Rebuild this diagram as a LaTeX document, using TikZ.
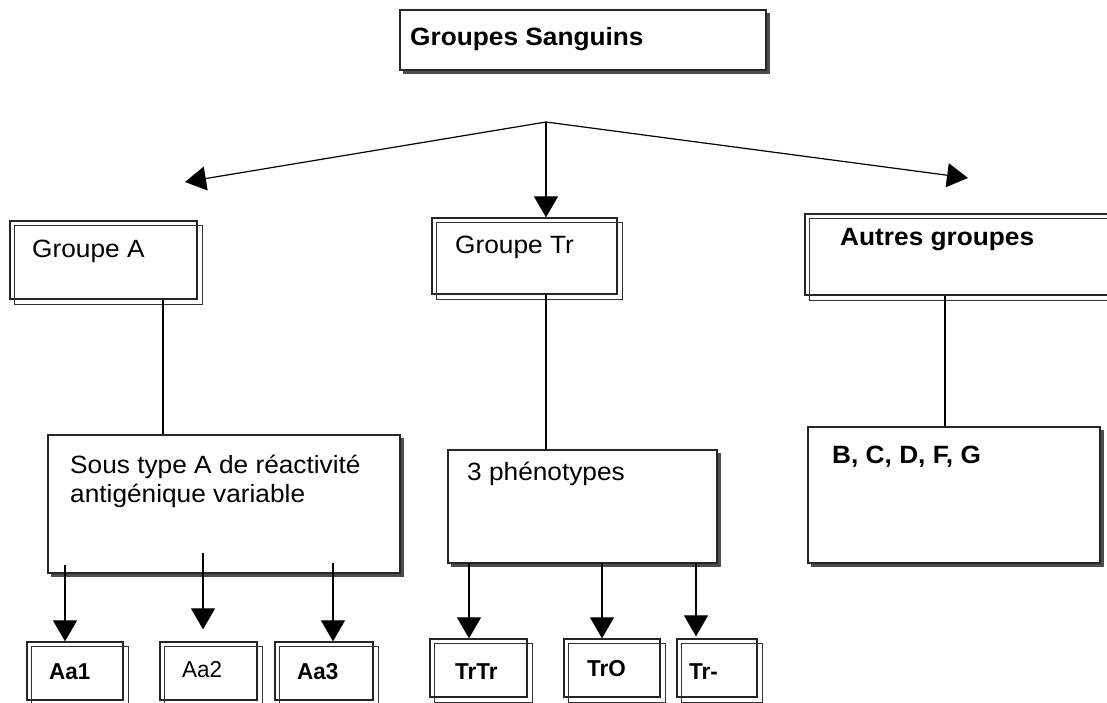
\documentclass[tikz,border=0pt]{standalone}
\usepackage{fontspec}
\setmainfont{Liberation Sans}
\usetikzlibrary{arrows.meta}
\tikzset{
  box/.style={draw=black!85, line width=1.3pt, rectangle, inner sep=0pt},
  frame/.style={draw=black!80, line width=1.1pt},
  shadowline/.style={draw=black!70, line width=3pt},
  conn/.style={draw=black, line width=1.2pt},
  arr/.style={conn, -{Triangle[width=24pt,length=21pt]}},
  txt/.style={anchor=base west, inner sep=0pt, xscale=1.05, font=\fontsize{25}{30}\selectfont},
  btxt/.style={txt, font=\fontsize{25}{30}\selectfont\bfseries},
  stxt/.style={txt, xscale=0.93, font=\fontsize{23}{28}\selectfont},
  sbtxt/.style={txt, xscale=0.93, font=\fontsize{23}{28}\selectfont\bfseries},
}
\newcommand{\dblframe}[1]{\draw[frame] ([shift={(5,5)}]#1.north west) rectangle ([shift={(5,5)}]#1.south east);}
\newcommand{\shadowL}[1]{\draw[shadowline] ([shift={(4,2)}]#1.south west) -- ([shift={(2,2)}]#1.south east) -- ([shift={(2,4)}]#1.north east);}
\begin{document}
\begin{tikzpicture}[x=1pt,y=-1pt]
\useasboundingbox (0,0) rectangle (1107,703);
% boxes
\node[box, minimum width=366, minimum height=60] (top) at (583,40) {};
\node[box, minimum width=187, minimum height=78] (ga) at (103.5,260) {};
\node[box, minimum width=185, minimum height=76] (gtr) at (524.5,256) {};
\node[box, minimum width=315, minimum height=81] (aut) at (962.5,254.5) {};
\node[box, minimum width=352, minimum height=138] (sta) at (224,504) {};
\node[box, minimum width=269, minimum height=113] (phe) at (582.5,506.5) {};
\node[box, minimum width=292, minimum height=136] (bcd) at (954,495) {};
\node[box, minimum width=96, minimum height=58] (aa1) at (75,671) {};
\node[box, minimum width=97, minimum height=58] (aa2) at (208.5,671) {};
\node[box, minimum width=98, minimum height=58] (aa3) at (324,671) {};
\node[box, minimum width=97, minimum height=58] (trtr) at (478.5,668) {};
\node[box, minimum width=96, minimum height=58] (tro) at (612,668) {};
\node[box, minimum width=80, minimum height=58] (trm) at (717,668) {};
% double frames and shadows
\dblframe{ga}\dblframe{gtr}\dblframe{aut}
\dblframe{aa1}\dblframe{aa2}\dblframe{aa3}\dblframe{trtr}\dblframe{tro}\dblframe{trm}
\shadowL{top}\shadowL{sta}\shadowL{phe}\shadowL{bcd}
% texts
\node[btxt] (ttop) at (410,46) {Groupes Sanguins};
\node[txt] (tga) at (32,257) {Groupe A};
\node[txt] (tgtr) at (455,254) {Groupe Tr};
\node[btxt] (taut) at (840,245) {Autres groupes};
\node[txt] (tsta1) at (70,473) {Sous type A de réactivité};
\node[txt] (tsta2) at (70,502) {antigénique variable};
\node[txt] (tphe) at (467,480) {3 phénotypes};
\node[btxt] (tbcd) at (832,463) {B, C, D, F, G};
\node[sbtxt] (taa1) at (49,679) {Aa1};
\node[stxt] (taa2) at (182,677) {Aa2};
\node[sbtxt] (taa3) at (297,679) {Aa3};
\node[sbtxt] (ttrtr) at (455,679) {TrTr};
\node[sbtxt] (ttro) at (587,676) {TrO};
\node[sbtxt] (ttrm) at (689,679) {Tr-};
% top connectors
\coordinate (hub) at (546,122);
\coordinate (tl) at (185,182);
\coordinate (tr) at (968,178);
\draw[arr] (hub) -- (tl);
\draw[arr] (hub) -- (hub |- gtr.north);
\draw[arr] (hub) -- (tr);
% vertical lines
\coordinate (ca) at (163,0);
\coordinate (co) at (945,0);
\draw[conn] (ca |- ga.south) -- (ca |- sta.north);
\draw[conn] (hub |- gtr.south) -- (hub |- phe.north);
\draw[conn] (co |- aut.south) -- (co |- bcd.north);
% bottom arrows
\coordinate (s1) at (65,565);
\coordinate (s2) at (203,553);
\coordinate (s3) at (333,563);
\coordinate (t1) at (469,563);
\coordinate (t2) at (602,563);
\coordinate (t3) at (696,563);
\draw[arr] (s1) -- (s1 |- aa1.north);
\draw[arr] (s2) -- ([yshift=12]s2 |- aa2.north);
\draw[arr] (s3) -- (s3 |- aa3.north);
\draw[arr] (t1) -- (t1 |- trtr.north);
\draw[arr] (t2) -- (t2 |- tro.north);
\draw[arr] (t3) -- ([yshift=2]t3 |- trm.north);
\end{tikzpicture}
\end{document}
